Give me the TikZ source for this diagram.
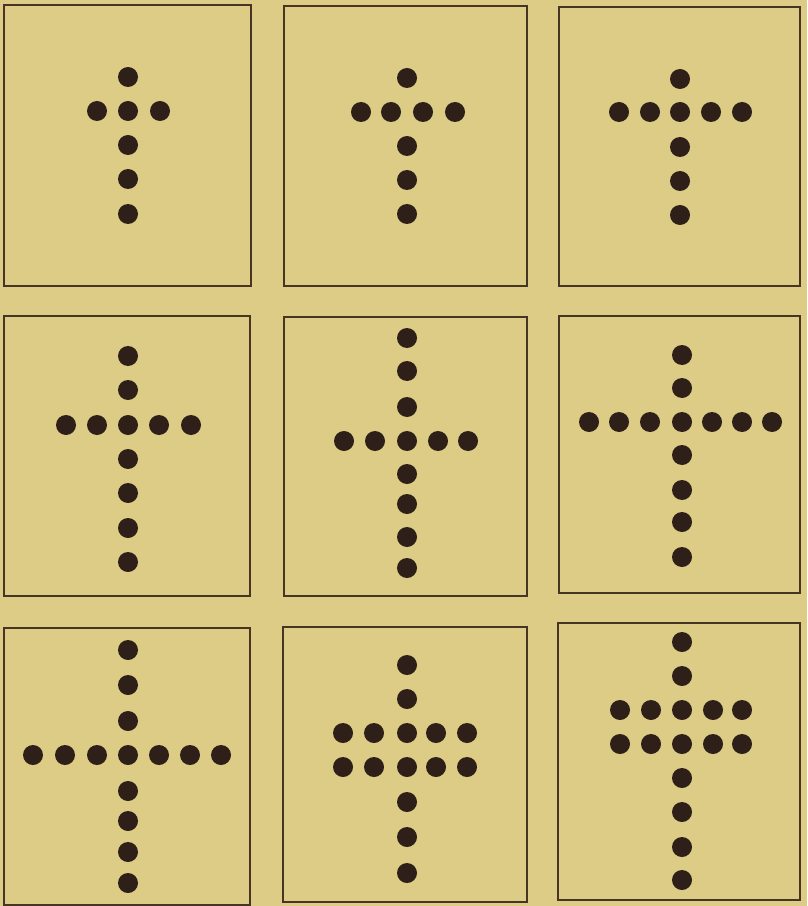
\documentclass[tikz,border=0pt]{standalone}
\usepackage{xcolor}
\usepackage{tikz}
\usetikzlibrary{shapes,positioning}

\definecolor{paper}{RGB}{220,204,134}
\definecolor{frame}{RGB}{70,52,36}
\definecolor{ink}{RGB}{46,32,24}

\begin{document}
\begin{tikzpicture}[
    x=0.03cm, y=-0.03cm,
    panel/.style 2 args={rectangle, draw=frame, line width=2.4pt, minimum width=#1*0.03cm, minimum height=#2*0.03cm, inner sep=0pt},
    dot/.style={circle, fill=ink, minimum size=0.6cm, inner sep=0pt}
]
\useasboundingbox (0,0) rectangle (807,906);
\fill[paper] (0,0) rectangle (807,906);

% top row
\node[panel={247}{281}] (p1) at (127.5,145.5) {};
\foreach \y [count=\i] in {77,111,145,179,214} \node[dot] (p1v\i) at (128,\y) {};
\foreach \x [count=\i] in {97,160} \node[dot] (p1h\i) at (\x,111) {};

\node[panel={243}{280}] (p2) at (405.5,146) {};
\foreach \y [count=\i] in {78,146,180,214} \node[dot] (p2v\i) at (407,\y) {};
\foreach \x [count=\i] in {361,391,423,455} \node[dot] (p2h\i) at (\x,112) {};

\node[panel={241}{279}] (p3) at (679.5,146.5) {};
\foreach \y [count=\i] in {79,112,147,181,215} \node[dot] (p3v\i) at (680,\y) {};
\foreach \x [count=\i] in {619,650,711,742} \node[dot] (p3h\i) at (\x,112) {};

% middle row
\node[panel={246}{280}] (p4) at (127,456) {};
\foreach \y [count=\i] in {356,390,425,459,493,528,562} \node[dot] (p4v\i) at (128,\y) {};
\foreach \x [count=\i] in {66,97,159,191} \node[dot] (p4h\i) at (\x,425) {};

\node[panel={243}{279}] (p5) at (405.5,456.5) {};
\foreach \y [count=\i] in {338,371,407,441,474,504,537,568} \node[dot] (p5v\i) at (407,\y) {};
\foreach \x [count=\i] in {344,375,438,468} \node[dot] (p5h\i) at (\x,441) {};

\node[panel={241}{277}] (p6) at (679.5,454.5) {};
\foreach \y [count=\i] in {355,388,422,455,490,522,557} \node[dot] (p6v\i) at (682,\y) {};
\foreach \x [count=\i] in {589,619,650,712,742,772} \node[dot] (p6h\i) at (\x,422) {};

% bottom row
\node[panel={246}{277}] (p7) at (127,766.5) {};
\foreach \y [count=\i] in {650,685,721,755,791,821,852,883} \node[dot] (p7v\i) at (128,\y) {};
\foreach \x [count=\i] in {33,65,97,159,190,221} \node[dot] (p7h\i) at (\x,755) {};

\node[panel={244}{275}] (p8) at (405,764.5) {};
\foreach \y [count=\i] in {665,699,733,767,802,837,873} \node[dot] (p8v\i) at (407,\y) {};
\foreach \x [count=\i] in {343,374,436,467} {
  \node[dot] (p8a\i) at (\x,733) {};
  \node[dot] (p8b\i) at (\x,767) {};
}

\node[panel={242}{277}] (p9) at (679,761.5) {};
\foreach \y [count=\i] in {642,676,710,744,778,812,847,880} \node[dot] (p9v\i) at (682,\y) {};
\foreach \x [count=\i] in {620,651,713,742} {
  \node[dot] (p9a\i) at (\x,710) {};
  \node[dot] (p9b\i) at (\x,744) {};
}
\end{tikzpicture}
\end{document}
